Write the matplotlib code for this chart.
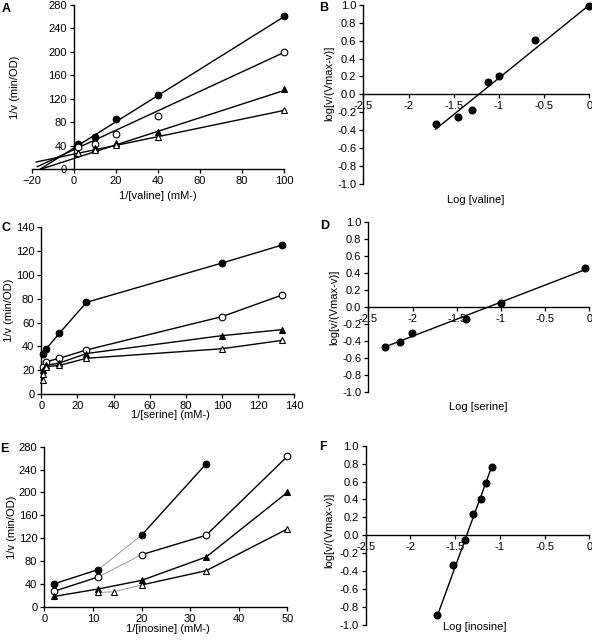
import matplotlib
matplotlib.use("Agg")
import matplotlib.pyplot as plt

plt.rcParams['font.family'] = ['Liberation Sans', 'DejaVu Sans']

# ==========================================
# DATA
# ==========================================
# Panel A - Lineweaver-Burk, valine
val_x = [2, 10, 20, 40, 100]
val_fc = [43, 55, 86, 127, 261]      # filled circle
val_oc = [37, 43, 60, 91, 200]       # open circle
val_ft = [28, 35, 45, 63, 136]       # filled triangle
val_ot = [27, 33, 41, 55, 100]       # open triangle
# fitted lines: (x0, x1), (y0, y1)
val_fit_x = [(-16, 100), (-17.5, 100), (-15.5, 100), (-18, 100)]
val_fit_y = [(0, 260), (4, 199), (0, 134), (12, 100)]

# Panel B - Hill plot, valine
logval_x = [-1.70, -1.45, -1.30, -1.12, -1.00, -0.60, 0.0]
logval_y = [-0.33, -0.25, -0.17, 0.14, 0.20, 0.61, 0.99]
logval_fit_x = [-1.70, 0.0]
logval_fit_y = [-0.39, 1.0]

# Panel C - serine
ser_fc_x = [0.8, 2.5, 10, 25, 100, 133]
ser_fc = [33.5, 37.5, 51, 77, 110, 125]
ser_oc_x = [1, 2.5, 10, 25, 100, 133]
ser_oc = [23, 27, 30, 37, 65, 83]
ser_ft_x = [0.8, 2.5, 10, 25, 100, 133]
ser_ft = [20, 24, 26, 34, 49, 54]
ser_ot_x = [0.7, 1, 2.5, 10, 25, 100, 133]
ser_ot = [12, 17, 23, 24, 30, 38, 45]

# Panel D - Hill plot, serine
logser_x = [-2.31, -2.14, -2.01, -1.40, -1.00, -0.05]
logser_y = [-0.47, -0.41, -0.31, -0.14, 0.05, 0.46]
logser_fit_x = [-2.31, -0.05]
logser_fit_y = [-0.47, 0.44]

# Panel E - inosine
ino_fc_x = [2, 11.1, 20, 33.3]
ino_fc = [40, 65, 125, 250]
ino_oc_x = [2, 11.1, 20, 33.3, 50]
ino_oc = [27, 52, 91, 125, 263]
ino_ft_x = [2, 11.1, 20, 33.3, 50]
ino_ft = [18, 31, 46, 87, 200]
ino_ot_x = [11.1, 14.3, 20, 33.3, 50]
ino_ot = [25, 26, 38, 63, 136]
# segment indices drawn as thin grey lines
ino_fc_thin = [1]
ino_oc_thin = [1]
ino_ft_thin = []
ino_ot_thin = [0, 1]

# Panel F - Hill plot, inosine
logino_x = [-1.70, -1.52, -1.39, -1.30, -1.21, -1.15, -1.09]
logino_y = [-0.89, -0.33, -0.05, 0.24, 0.40, 0.58, 0.76]
logino_fit_x = [-1.70, -1.09]
logino_fit_y = [-0.90, 0.77]

# ==========================================
W, H = 592, 641
fig = plt.figure(figsize=(W / 100, H / 100), dpi=100)

STYLES = [
    dict(marker='o', mfc='black', mec='black'),
    dict(marker='o', mfc='white', mec='black'),
    dict(marker='^', mfc='black', mec='black'),
    dict(marker='^', mfc='white', mec='black'),
]
MS = 4.8
LW = 1.0
FS = 8


def px_axes(left, top, right, bottom):
    return fig.add_axes([left / W, 1 - bottom / H, (right - left) / W, (bottom - top) / H])


def style_axes(ax):
    for s in ['top', 'right']:
        ax.spines[s].set_visible(False)
    for s in ['left', 'bottom']:
        ax.spines[s].set_linewidth(1.0)
    ax.tick_params(direction='out', length=3, width=0.9, labelsize=FS, pad=2)


def label_at(ax, axis, text, px, py, box):
    # xlabel: (px, py) = top centre; ylabel: (px, py) = right edge, centre
    left, top, right, bottom = box
    fx = (px - left) / (right - left)
    fy = (bottom - py) / (bottom - top)
    if axis == 'x':
        ax.set_xlabel(text, fontsize=FS)
        ax.xaxis.set_label_coords(fx, fy)
    else:
        ax.set_ylabel(text, fontsize=FS)
        ax.yaxis.set_label_coords(fx, fy)


def letter(txt, px, py):
    fig.text(px / W, 1 - py / H, txt, fontsize=9, fontweight='bold', va='top', ha='left')


def hill_panel(box, xs, ys, fx, fy, xlabel, xlab_pos, ylab_pos):
    ax = px_axes(*box)
    style_axes(ax)
    ax.set_xlim(-2.5, 0)
    ax.set_ylim(-1.0, 1.0)
    ax.spines['bottom'].set_position(('data', 0))
    ax.set_xticks([-2.5, -2, -1.5, -1, -0.5, 0])
    ax.set_xticklabels(['-2.5', '-2', '-1.5', '-1', '-0.5', '0'])
    yt = [1.0, 0.8, 0.6, 0.4, 0.2, 0.0, -0.2, -0.4, -0.6, -0.8, -1.0]
    ax.set_yticks(yt)
    ax.set_yticklabels([f"{v:.1f}" for v in yt])
    ax.plot(fx, fy, color='black', lw=LW, clip_on=False)
    ax.plot(xs, ys, ls='none', ms=MS, clip_on=False, zorder=3, **STYLES[0])
    label_at(ax, 'x', xlabel, xlab_pos[0], xlab_pos[1], box)
    label_at(ax, 'y', 'log[v/(Vmax-v)]', ylab_pos[0], ylab_pos[1], box)
    return ax


def connected(ax, xs, ys, style, thin):
    for i in range(len(xs) - 1):
        if i in thin:
            ax.plot(xs[i:i + 2], ys[i:i + 2], color='#888888', lw=0.6, clip_on=False)
        else:
            ax.plot(xs[i:i + 2], ys[i:i + 2], color='black', lw=LW, clip_on=False)
    ax.plot(xs, ys, ls='none', ms=MS, mew=0.8, clip_on=False, zorder=3, **style)


# --- A ---
boxA = (32, 5, 284, 169)
axA = px_axes(*boxA)
style_axes(axA)
axA.set_xlim(-20, 100)
axA.set_ylim(0, 280)
axA.spines['left'].set_position(('data', 0))
axA.set_xticks(range(-20, 101, 20))
axA.set_yticks(range(0, 281, 40))
for (x0, x1), (y0, y1) in zip(val_fit_x, val_fit_y):
    axA.plot([x0, x1], [y0, y1], color='black', lw=LW, clip_on=False)
for ys, st in zip([val_fc, val_oc, val_ft, val_ot], STYLES):
    axA.plot(val_x, ys, ls='none', ms=MS, mew=0.8, clip_on=False, zorder=3, **st)
label_at(axA, 'x', '1/[valine] (mM-)', 158, 191, boxA)
label_at(axA, 'y', '1/v (min/OD)', 20, 87, boxA)
letter('A', 2, 3)

# --- B ---
hill_panel((363.3, 5, 589.3, 183.7), logval_x, logval_y, logval_fit_x, logval_fit_y,
           'Log [valine]', (476, 195), (334, 83))
letter('B', 319, 2)

# --- C ---
boxC = (41.3, 227.3, 294.3, 394)
axC = px_axes(*boxC)
style_axes(axC)
axC.set_xlim(0, 140)
axC.set_ylim(0, 140)
axC.set_xticks(range(0, 141, 20))
axC.set_yticks(range(0, 141, 20))
for xs, ys, st in zip([ser_fc_x, ser_oc_x, ser_ft_x, ser_ot_x],
                      [ser_fc, ser_oc, ser_ft, ser_ot], STYLES):
    connected(axC, xs, ys, st, [])
label_at(axC, 'x', '1/[serine] (mM-)', 170, 410, boxC)
label_at(axC, 'y', '1/v (min/OD)', 14, 310, boxC)
letter('C', 1, 222)

# --- D ---
hill_panel((368.3, 222.3, 589.3, 391.7), logser_x, logser_y, logser_fit_x, logser_fit_y,
           'Log [serine]', (478, 402), (339, 307))
letter('D', 320, 220)

# --- E ---
boxE = (44.3, 446.7, 287.3, 606.7)
axE = px_axes(*boxE)
style_axes(axE)
axE.set_xlim(0, 50)
axE.set_ylim(0, 280)
axE.set_xticks(range(0, 51, 10))
axE.set_yticks(range(0, 281, 40))
for xs, ys, st, thin in zip([ino_fc_x, ino_oc_x, ino_ft_x, ino_ot_x],
                            [ino_fc, ino_oc, ino_ft, ino_ot], STYLES,
                            [ino_fc_thin, ino_oc_thin, ino_ft_thin, ino_ot_thin]):
    connected(axE, xs, ys, st, thin)
label_at(axE, 'x', '1/[inosine] (mM-)', 168, 624, boxE)
label_at(axE, 'y', '1/v (min/OD)', 17, 527, boxE)
letter('E', 0, 443)

# --- F ---
hill_panel((365.7, 445.7, 589.3, 625), logino_x, logino_y, logino_fit_x, logino_fit_y,
           'Log [inosine]', (475, 622), (334, 530))
letter('F', 319, 441)

fig.savefig('out.png', dpi=100)
